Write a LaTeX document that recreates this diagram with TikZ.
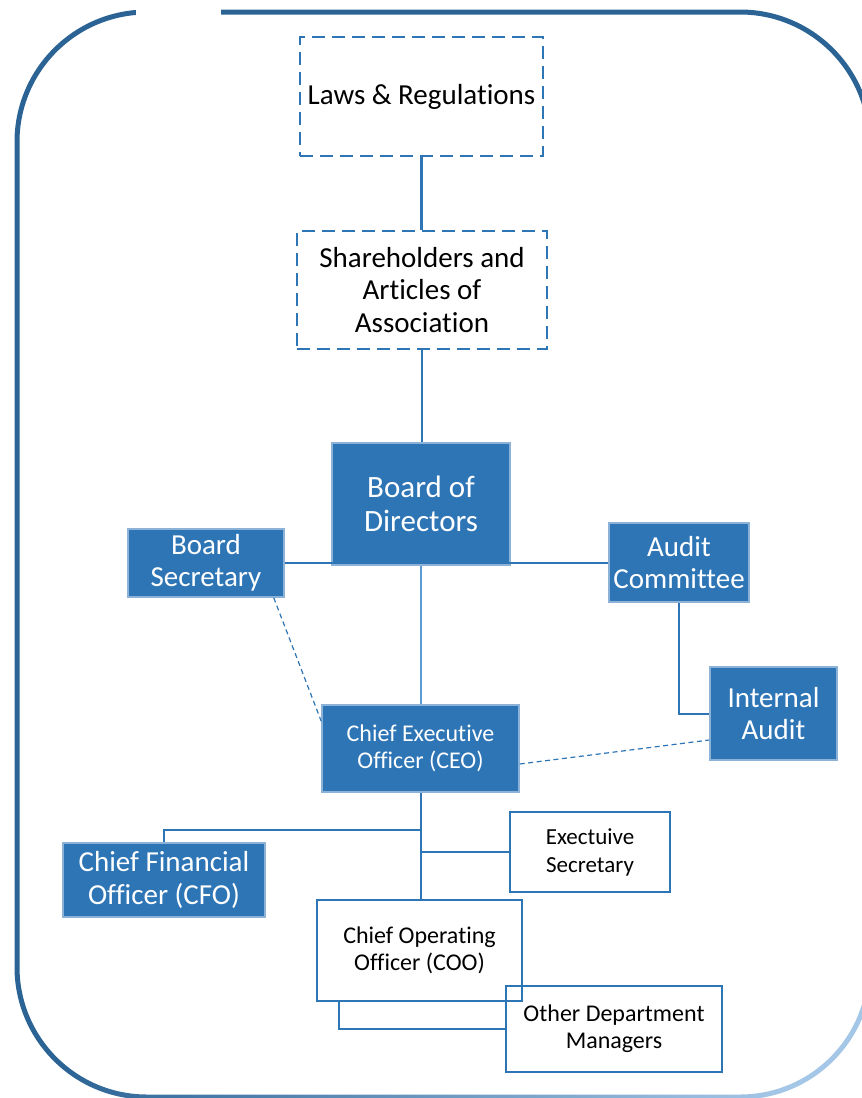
\documentclass[tikz,border=0pt]{standalone}
\usepackage{fontspec}
\setmainfont{Carlito}[Ligatures={NoCommon}]
\usetikzlibrary{calc}
\definecolor{acc}{HTML}{2E75B6}
\definecolor{accl}{HTML}{5B9BD5}
\definecolor{frdark}{HTML}{2A6394}
\definecolor{frlight}{HTML}{A4C6E7}
\pgfdeclarehorizontalshading{frameshade}{100bp}{color(0bp)=(frdark); color(55bp)=(frdark); color(82bp)=(frlight); color(100bp)=(frlight)}
\tikzset{
  basebox/.style={inner sep=0pt, align=center, anchor=center},
  dashbox/.style={basebox, draw=acc, line width=2pt, dash pattern=on 13pt off 7pt, fill=white, text=black},
  solidbox/.style={basebox, draw=acc, line width=2pt, text=black},
  bluebox/.style={basebox, fill=acc, draw=acc!55, line width=1.5pt, text=white},
  conn/.style={draw=acc, line width=2.5pt},
  connl/.style={draw=accl, line width=2.5pt},
  thinconn/.style={draw=acc, line width=1.2pt, dash pattern=on 5pt off 3.5pt},
  fxl/.style={font=\fontsize{31}{34}\selectfont},
  fl/.style={font=\fontsize{29}{32.5}\selectfont},
  fm/.style={font=\fontsize{24}{27}\selectfont},
  fs/.style={font=\fontsize{23}{28}\selectfont},
}
\begin{document}
\begin{tikzpicture}[x=1pt,y=-1pt]
\useasboundingbox (0,0) rectangle (862,1098);
% outer frame
\begin{scope}
\clip (0,0) rectangle (862,1098);
\shade[shading=frameshade, shading angle=-45, even odd rule]
  [rounded corners=132.5pt] (14.5,9.5) rectangle (872.5,1099.5)
  [rounded corners=127.5pt] (19.5,14.5) rectangle (867.5,1094.5);
\fill[white] (136,0) rectangle (221,25);
\end{scope}

% nodes
\node[dashbox, fl, minimum width=243pt, minimum height=119pt] (laws) at (421.5,96.5) {Laws \& Regulations};
\node[dashbox, fl, minimum width=250pt, minimum height=118pt] (share) at (422,290) {Shareholders and\\Articles of\\Association};
\node[bluebox, fxl, minimum width=178pt, minimum height=122pt] (board) at (421,504) {Board of\\Directors};
\node[bluebox, fl, minimum width=156pt, minimum height=68pt] (bsec) at (206,563) {Board\\Secretary};
\node[bluebox, fl, minimum width=140pt, minimum height=79pt] (audit) at (679,562.5) {Audit\\Committee};
\node[bluebox, fm, minimum width=197pt, minimum height=87pt] (ceo) at (420.5,748.5) {Chief Executive\\Officer (CEO)};
\node[bluebox, fl, minimum width=127pt, minimum height=93pt] (ia) at (773.5,713.5) {Internal\\Audit};
\node[bluebox, fl, minimum width=202pt, minimum height=74pt] (cfo) at (164,880) {Chief Financial\\Officer (CFO)};
\node[solidbox, fs, minimum width=160pt, minimum height=80pt] (esec) at (590,852) {Exectuive\\Secretary};
\node[solidbox, fm, minimum width=205pt, minimum height=101pt] (coo) at (419.5,950.5) {Chief Operating\\Officer (COO)};
\node[solidbox, fm, minimum width=216pt, minimum height=86pt] (odm) at (614,1029) {Other Department\\Managers};

% connectors
\draw[conn] (laws.south) -- (laws.south |- share.north);
\draw[conn] (share.south) -- (share.south |- board.north);
\draw[conn, line width=2pt] (bsec.east) -- (bsec.east -| audit.west);
\draw[connl, line width=2pt] (board.south) -- (board.south |- ceo.north);
\draw[conn, line width=2pt] (audit.south) |- (ia.west);
\draw[thinconn] ([xshift=-11pt]bsec.south east) -- ([yshift=-17pt]ceo.north west);
\draw[thinconn] ([yshift=-15.5pt]ceo.east) -- ([yshift=-26.5pt]ia.west);
\coordinate (j1) at (421,830);
\coordinate (j2) at (421,852);
\draw[conn] (ceo.south -| j1) -- (j1 |- coo.north);
\draw[conn] (j1) -| (cfo.north);
\draw[conn] (j2) -- (esec.west);
\draw[conn, line width=2pt] ([xshift=-80.5pt]coo.south) |- (odm.west);
\end{tikzpicture}
\end{document}
